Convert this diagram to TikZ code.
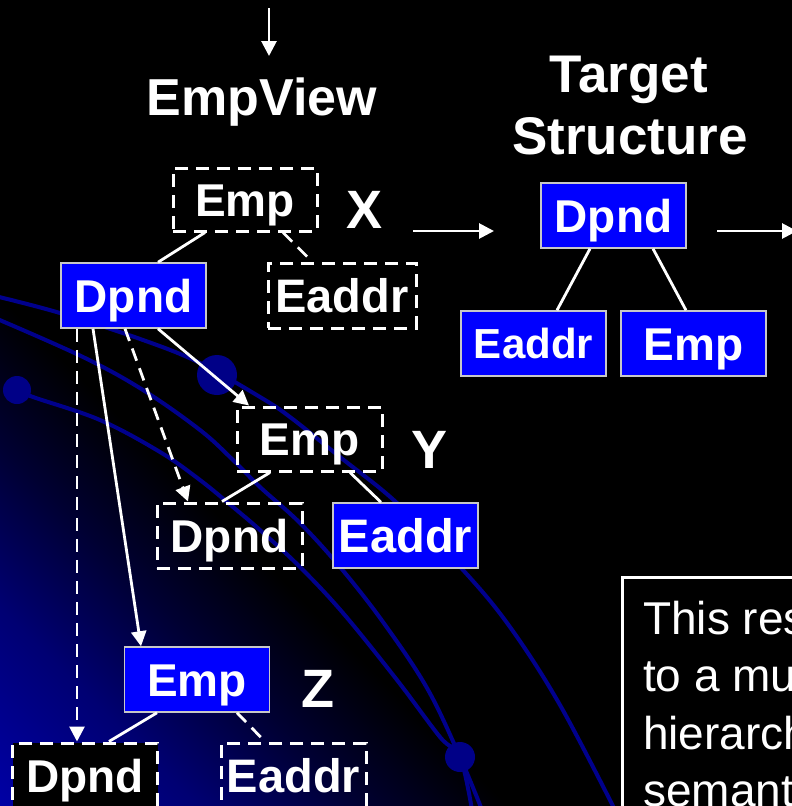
\documentclass[tikz,border=0pt]{standalone}
\usepackage{fontspec}
\setmainfont{Liberation Sans}
\usetikzlibrary{arrows.meta,calc}
\definecolor{boxblue}{RGB}{0,0,255}
\definecolor{boxedge}{RGB}{200,200,200}
\definecolor{arcblue}{RGB}{0,0,140}
\definecolor{dotblue}{RGB}{0,0,135}
\definecolor{glowA}{RGB}{0,0,165}
\definecolor{glowB}{RGB}{0,0,115}
\definecolor{glowC}{RGB}{0,0,50}
\pgfdeclarehorizontalshading{bgglow}{100bp}{color(0bp)=(glowA); color(25bp)=(glowA); color(31bp)=(glowB); color(36bp)=(glowC); color(40.5bp)=(black); color(100bp)=(black)}
\tikzset{
  bluebox/.style={fill=boxblue, draw=boxedge, line width=1.5pt, inner sep=0pt,
    minimum width=145pt, minimum height=65pt, text=white,
    font=\bfseries\fontsize{46}{46}\selectfont, text height=33pt, text depth=0pt},
  dashbox/.style={draw=white, line width=3pt, dash pattern=on 13pt off 8pt, inner sep=0pt,
    minimum width=145pt, minimum height=65pt, text=white,
    font=\bfseries\fontsize{46}{46}\selectfont, text height=33pt, text depth=0pt},
  eaddrfont/.style={font=\bfseries\fontsize{47}{47}\selectfont, text height=33.6pt},
  title/.style={text=white, inner sep=0pt, anchor=base, font=\bfseries\fontsize{52}{52}\selectfont},
  tag/.style={text=white, inner sep=0pt, anchor=base, font=\bfseries\fontsize{54}{54}\selectfont},
  note/.style={text=white, inner sep=0pt, anchor=base west, font=\fontsize{46}{46}\selectfont},
  conn/.style={white, line width=2.8pt},
  dconn/.style={white, line width=2.8pt, dash pattern=on 13pt off 8pt},
  arr/.style={-{Triangle[length=15pt,width=15pt]}},
  arcline/.style={arcblue, line width=4pt},
}
\begin{document}
\begin{tikzpicture}[x=1pt,y=-1pt]
\useasboundingbox (0,0) rectangle (792,806);
\clip (0,0) rectangle (792,806);
\fill[black] (0,0) rectangle (792,806);
% background glow
\begin{scope}[transform canvas={shift={(0pt,-806pt)},rotate=45}]
  \shade[shading=bgglow] (0pt,-580pt) rectangle (1160pt,580pt);
\end{scope}
% background arcs
\draw[arcline] plot[smooth, tension=0.6] coordinates {(-5,296) (60,313) (143,340) (200,363) (260,397) (290,417) (340,457) (397,503) (463,570) (510,627) (560,705) (615,810)};
\draw[arcline] plot[smooth, tension=0.6] coordinates {(-5,318) (83,357) (143,390) (200,430) (233,460) (260,487) (300,523) (340,567) (383,622) (427,688) (460,757) (482,810)};
\draw[arcline] plot[smooth, tension=0.6] coordinates {(17,390) (33,397) (100,420) (160,452) (200,480) (233,507) (260,530) (300,567) (343,613) (397,680) (440,737) (460,757) (472,810)};
\fill[dotblue] (217,375) circle (20);
\fill[dotblue] (17,390) circle (14);
\fill[dotblue] (460,757) circle (15);

% titles
\node[title] (tEmpView) at (262,115) {EmpView};
\node[title, font=\bfseries\fontsize{53}{53}\selectfont] (tTarget) at (629,92) {Target};
\node[title, font=\bfseries\fontsize{53}{53}\selectfont] (tStruct) at (630,154) {Structure};
\node[tag] (lX) at (365,228) {X};
\node[tag] (lY) at (429.5,468) {Y};
\node[tag] (lZ) at (317.5,707) {Z};

% top arrow
\coordinate (inTop) at (269,8);
\coordinate (inBot) at (269,56);
\draw[conn, arr] (inTop) -- (inBot);

% EmpView X
\node[dashbox, minimum width=144pt, minimum height=63pt] (eX) at (245,199.5) {Emp};
\node[bluebox] (dX) at (133.5,295.5) {Dpnd};
\node[dashbox, eaddrfont, minimum width=148pt] (aX) at (342,295.5) {Eaddr};

% Target structure
\node[bluebox] (tD) at (613.5,215.5) {Dpnd};
\node[bluebox, font=\bfseries\fontsize{42}{42}\selectfont, text height=30pt] (tA) at (533.5,343.5) {Eaddr};
\node[bluebox] (tE) at (693.5,343.5) {Emp};

% Y
\node[dashbox, minimum height=64pt] (eY) at (309.5,439) {Emp};
\node[dashbox] (dY) at (229.5,535.5) {Dpnd};
\node[bluebox, eaddrfont] (aY) at (405.5,535.5) {Eaddr};

% Z
\node[bluebox] (eZ) at (197,679.5) {Emp};
\node[dashbox, fill=black] (dZ) at (85,775.5) {Dpnd};
\node[dashbox, eaddrfont] (aZ) at (293.5,775.5) {Eaddr};

% note box
\node[draw=white, line width=3pt, fill=black, anchor=north west, minimum width=260pt, minimum height=300pt, inner sep=0pt] (noteBox) at (621,576) {};
\node[note] (n1) at (643,634) {This res};
\node[note] (n2) at (643,691.5) {to a mu};
\node[note] (n3) at (643,749) {hierarch};
\node[note] (n4) at (643,806.5) {semant};

% flow arrows
\coordinate (a1s) at (413,231);
\coordinate (a1e) at (494,231);
\draw[conn, arr] (a1s) -- (a1e);
\coordinate (a2s) at (717,231);
\coordinate (a2e) at (797,231);
\draw[conn, arr] (a2s) -- (a2e);

% tree edges
\draw[conn] ($(eX.south)+(-40,0)$) -- ($(dX.north)+(24.5,0)$);
\draw[dconn] ($(eX.south)+(38,0)$) -- ($(aX.north)+(-30,0)$);
\draw[conn] ($(tD.south)+(-23.5,0)$) -- ($(tA.north)+(23.5,0)$);
\draw[conn] ($(tD.south)+(39.5,0)$) -- ($(tE.north)+(-7.5,0)$);
\draw[conn] ($(eY.south)+(-39.5,0)$) -- ($(dY.north)+(-7.5,0)$);
\draw[conn] ($(eY.south)+(40.5,0)$) -- ($(aY.north)+(-24.5,0)$);
\draw[conn] ($(eZ.south)+(-40,0)$) -- ($(dZ.north)+(24,0)$);
\draw[dconn] ($(eZ.south)+(40,0)$) -- ($(aZ.north)+(-28.5,0)$);

% arrows from Dpnd X
\draw[dconn, arr] ($(dX.south)+(-56.5,0)$) -- ($(dZ.north)+(-8,0)$);
\draw[conn, arr] ($(dX.south)+(-40.5,0)$) -- ($(eZ.north)+(-56,0)$);
\draw[dconn, arr] ($(dX.south)+(-8.5,0)$) -- ($(dY.north)+(-41.5,0)$);
\draw[conn, arr] ($(dX.south)+(24.5,0)$) -- ($(eY.north)+(-60.5,0)$);
\end{tikzpicture}
\end{document}
